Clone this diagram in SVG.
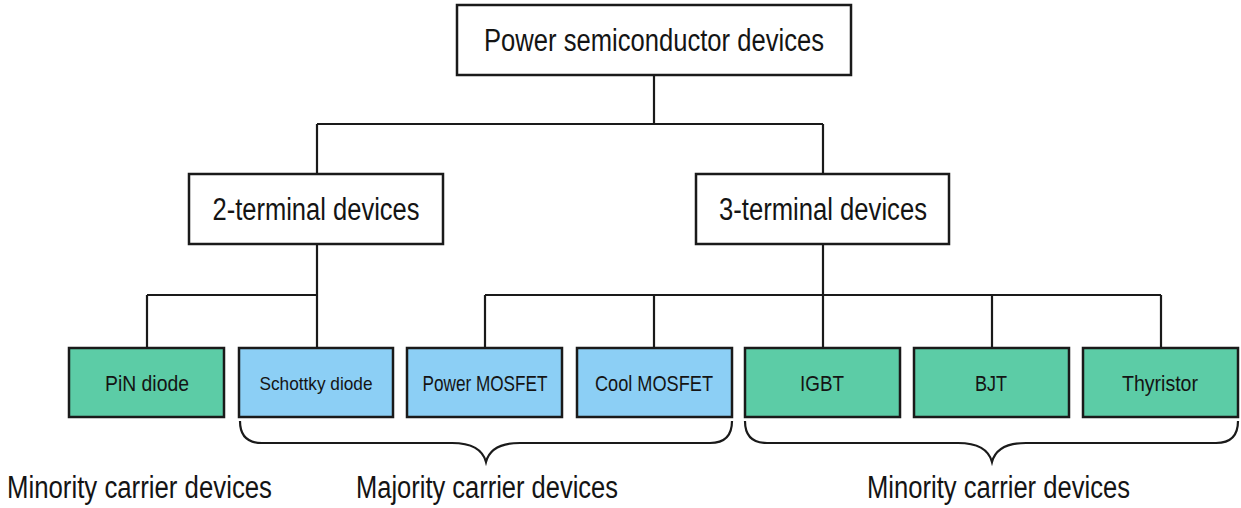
<svg xmlns="http://www.w3.org/2000/svg" width="1241" height="508" viewBox="0 0 1241 508">
<style>
.box{fill:#ffffff;stroke:#1a1a1a;stroke-width:2.5}
.green{fill:#5ccca6;stroke:#1a1a1a;stroke-width:2.5}
.blue{fill:#8ccff5;stroke:#1a1a1a;stroke-width:2.5}
.t{font-family:"Liberation Sans",Arial,sans-serif;fill:#141414;text-anchor:middle}
.big{font-size:31px}
.sm{font-size:22px}
.line{fill:none;stroke:#1a1a1a;stroke-width:2.2}
.brace{fill:none;stroke:#1a1a1a;stroke-width:2.2}
</style>
<rect width="1241" height="508" fill="#ffffff"/>
<g id="connectors">
<path class="line" d="M654,75 V124 M317,124 H823 M317,124 V174 M823,124 V174"/>
<path class="line" d="M317,244 V348 M147,295 H317 M147,295 V348"/>
<path class="line" d="M823,244 V348 M485,295 H1161 M485,295 V348 M654,295 V348 M992,295 V348 M1161,295 V348"/>
</g>
<g id="root"><rect class="box" x="457" y="5" width="394" height="70"/><text class="t big" x="654" y="51" textLength="340" lengthAdjust="spacingAndGlyphs">Power semiconductor devices</text></g>
<g id="two-terminal"><rect class="box" x="189" y="174" width="254" height="70"/><text class="t big" x="316" y="220" textLength="207" lengthAdjust="spacingAndGlyphs">2-terminal devices</text></g>
<g id="three-terminal"><rect class="box" x="696" y="174" width="253" height="70"/><text class="t big" x="823" y="220" textLength="208" lengthAdjust="spacingAndGlyphs">3-terminal devices</text></g>
<g id="pin"><rect class="green" x="69" y="348" width="155" height="69"/><text class="t sm" x="147" y="391" textLength="84" lengthAdjust="spacingAndGlyphs">PiN diode</text></g>
<g id="schottky"><rect class="blue" x="239" y="348" width="154" height="69"/><text class="t" style="font-size:19px" x="316" y="390" textLength="113" lengthAdjust="spacingAndGlyphs">Schottky diode</text></g>
<g id="power-mosfet"><rect class="blue" x="407" y="348" width="155" height="69"/><text class="t sm" x="485" y="391" textLength="125" lengthAdjust="spacingAndGlyphs">Power MOSFET</text></g>
<g id="cool-mosfet"><rect class="blue" x="577" y="348" width="155" height="69"/><text class="t sm" x="654" y="391" textLength="118" lengthAdjust="spacingAndGlyphs">Cool MOSFET</text></g>
<g id="igbt"><rect class="green" x="745" y="348" width="155" height="69"/><text class="t sm" x="822" y="391" textLength="44" lengthAdjust="spacingAndGlyphs">IGBT</text></g>
<g id="bjt"><rect class="green" x="914" y="348" width="155" height="69"/><text class="t sm" x="991" y="391" textLength="32" lengthAdjust="spacingAndGlyphs">BJT</text></g>
<g id="thyristor"><rect class="green" x="1083" y="348" width="155" height="69"/><text class="t sm" x="1160" y="391" textLength="76" lengthAdjust="spacingAndGlyphs">Thyristor</text></g>
<g id="braces">
<path class="brace" d="M240,421 Q240,443 262,443 L452,443 Q481,443 486,462 Q491,443 520,443 L710,443 Q732,443 732,421"/>
<path class="brace" d="M745,421 Q745,443 767,443 L958,443 Q987,443 992,462 Q997,443 1026,443 L1216,443 Q1238,443 1238,421"/>
</g>
<g id="labels">
<text class="t big" x="139.5" y="498" textLength="265" lengthAdjust="spacingAndGlyphs">Minority carrier devices</text>
<text class="t big" x="487" y="498" textLength="262" lengthAdjust="spacingAndGlyphs">Majority carrier devices</text>
<text class="t big" x="998.5" y="498" textLength="263" lengthAdjust="spacingAndGlyphs">Minority carrier devices</text>
</g>
</svg>
